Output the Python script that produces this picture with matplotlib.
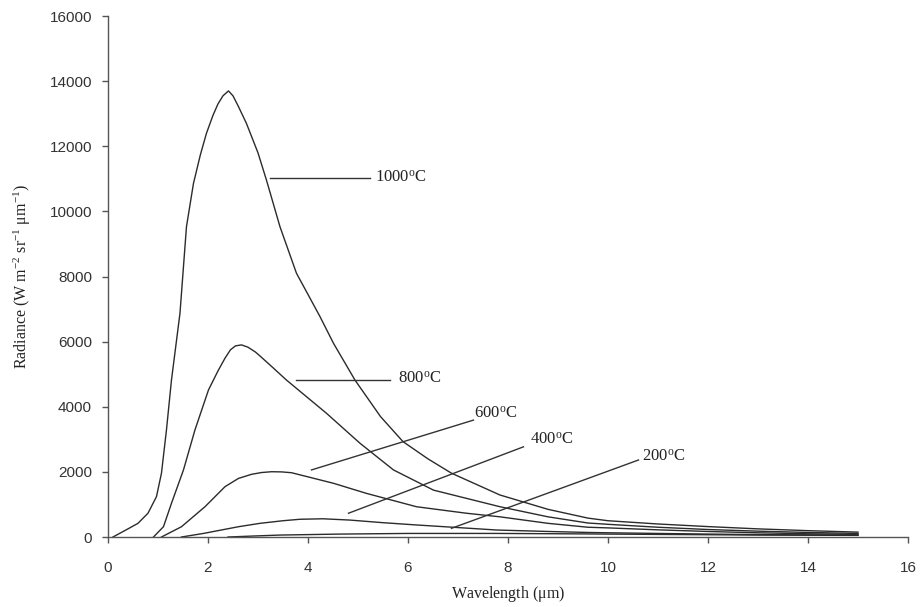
import matplotlib
matplotlib.use("Agg")
import matplotlib.pyplot as plt

plt.rcParams['mathtext.fontset'] = 'custom'
plt.rcParams['mathtext.rm'] = 'Liberation Serif'
plt.rcParams['mathtext.it'] = 'Liberation Serif:italic'

# Data (wavelength in µm, radiance in W m-2 sr-1 µm-1)
x_1000 = [0.1, 0.4, 0.6, 0.8, 0.97, 1.07, 1.17, 1.27, 1.44, 1.57, 1.71, 1.85, 1.97, 2.1, 2.2,
          2.3, 2.41, 2.5, 2.6, 2.77, 3.0, 3.17, 3.44, 3.77, 4.0, 4.24, 4.51, 4.94, 5.45, 5.9,
          6.4, 6.87, 7.84, 8.8, 9.6, 10, 11, 12, 13, 14, 15]
y_1000 = [0, 250, 420, 730, 1240, 1960, 3290, 4820, 6870, 9530, 10860, 11750, 12400, 12950, 13300,
          13550, 13700, 13550, 13250, 12700, 11800, 10960, 9530, 8100, 7450, 6770, 5950, 4820, 3700, 2930,
          2400, 1960, 1290, 850, 580, 500, 400, 320, 250, 195, 150]

x_800 = [0.91, 1.11, 1.27, 1.51, 1.74, 2.01, 2.2, 2.34, 2.45, 2.55, 2.67, 2.8, 2.95, 3.04, 3.3,
         3.57, 4.37, 5.04, 5.71, 6.51, 7.84, 8.8, 9.6, 10, 11, 12, 13, 14, 15]
y_800 = [0, 316, 1035, 2060, 3290, 4515, 5100, 5490, 5750, 5870, 5900, 5830, 5680, 5560, 5200,
         4820, 3800, 2880, 2060, 1440, 930, 620, 430, 390, 300, 230, 180, 140, 110]

x_600 = [1.07, 1.47, 1.94, 2.34, 2.61, 2.87, 3.07, 3.27, 3.47, 3.67, 4.51, 5.17, 6.17, 7.17, 7.84, 8.8,
         9.6, 10, 11, 12, 13, 14, 15]
y_600 = [0, 316, 930, 1545, 1800, 1925, 1980, 2005, 2000, 1975, 1650, 1340, 930, 730, 620, 420,
         300, 280, 220, 170, 130, 100, 80]

x_400 = [1.47, 1.91, 2.61, 3.04, 3.5, 3.84, 4.3, 4.84, 5.5, 6.17, 7.0, 7.77, 8.8, 9.6,
         10, 11, 12, 13, 14, 15]
y_400 = [0, 110, 316, 420, 500, 545, 560, 520, 440, 370, 290, 215, 170, 140,
         130, 110, 90, 75, 65, 55]

x_200 = [2.4, 2.9, 3.44, 4.64, 6, 7.77, 9.6, 10, 11, 12, 13, 14, 15]
y_200 = [0, 30, 60, 90, 110, 110, 95, 90, 80, 70, 60, 55, 50]

series = [(x_1000, y_1000), (x_800, y_800), (x_600, y_600), (x_400, y_400), (x_200, y_200)]

# Labels: text, leader line start, leader line end, text position
labels = [r"1000$^{\mathrm{o}}$C", r"800$^{\mathrm{o}}$C", r"600$^{\mathrm{o}}$C",
          r"400$^{\mathrm{o}}$C", r"200$^{\mathrm{o}}$C"]
leader_start = [(3.24, 11025), (3.76, 4820), (4.07, 2060), (4.81, 730), (6.87, 267)]
leader_end = [(5.24, 11025), (5.64, 4820), (7.31, 3590), (8.31, 2770), (10.61, 2365)]
label_pos = [(5.34, 11050), (5.81, 4850), (7.33, 3780), (8.45, 2980), (10.68, 2480)]

xticks = [0, 2, 4, 6, 8, 10, 12, 14, 16]
yticks = [0, 2000, 4000, 6000, 8000, 10000, 12000, 14000, 16000]

fig = plt.figure(figsize=(9.22, 6.07), dpi=100)
ax = fig.add_axes([0.1171, 0.1153, 0.9848 - 0.1171, 0.9736 - 0.1153])

line_color = '#2b2b2b'
for xs, ys in series:
    ax.plot(xs, ys, color=line_color, lw=1.0, solid_joinstyle='round')

for (x0, y0), (x1, y1), (tx, ty), lab in zip(leader_start, leader_end, label_pos, labels):
    ax.plot([x0, x1], [y0, y1], color='#333333', lw=1.0)
    ax.text(tx, ty, lab, fontsize=12, family='Liberation Serif', va='center', ha='left',
            color='#222222')

ax.set_xlim(0, 16)
ax.set_ylim(0, 16000)
ax.set_xticks(xticks)
ax.set_yticks(yticks)
ax.set_xticklabels([str(t) for t in xticks], family='Liberation Sans', fontsize=11, color='#333333')
ax.set_yticklabels([str(t) for t in yticks], family='Liberation Sans', fontsize=11, color='#333333')
ax.tick_params(axis='x', direction='out', length=4.5, width=1, color='#555555', pad=13)
ax.tick_params(axis='y', direction='out', length=4.5, width=1, color='#555555', pad=7)

for s in ['top', 'right']:
    ax.spines[s].set_visible(False)
for s in ['left', 'bottom']:
    ax.spines[s].set_color('#555555')
    ax.spines[s].set_linewidth(1.0)

ax.set_xlabel(r"Wavelength ($\mathrm{\mu}$m)", family='Liberation Serif', fontsize=11.5,
              color='#222222', labelpad=6)
ax.set_ylabel(r"Radiance (W m$^{-2}$ sr$^{-1}$ $\mathrm{\mu}$m$^{-1}$)", family='Liberation Serif',
              fontsize=11.5, color='#222222', labelpad=12)

fig.savefig("out.png", dpi=100)
